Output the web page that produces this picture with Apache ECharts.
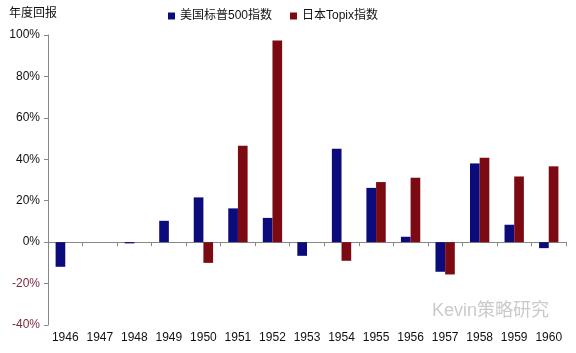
<!DOCTYPE html>
<html>
<head>
<meta charset="utf-8">
<script src="https://cdn.jsdelivr.net/npm/echarts@6/dist/echarts.min.js"></script>
<style>
  html, body { margin: 0; padding: 0; background: #fff; }
  #chart { width: 576px; height: 353px; }
</style>
</head>
<body>
<div id="chart"></div>
<script>
// 年份与两组年度回报 (%)
const years = ['1946', '1947', '1948', '1949', '1950', '1951', '1952', '1953', '1954', '1955', '1956', '1957', '1958', '1959', '1960'];
const usSP500 = [-11.9, 0, -0.6, 10.3, 21.6, 16.3, 11.7, -6.6, 45.1, 26.2, 2.6, -14.3, 38.0, 8.4, -2.9];
const jpTopix = [null, null, null, null, -10.0, 46.5, 97.3, null, -9.0, 29.0, 31.1, -15.6, 40.7, 31.7, 36.6];
const seriesNames = ['美国标普500指数', '日本Topix指数'];

const font = '"Liberation Sans", "Noto Sans CJK SC", sans-serif';
const chart = echarts.init(document.getElementById('chart'));

chart.setOption({
  animation: false,
  textStyle: { fontFamily: font },
  title: {
    text: '年度回报',
    left: 4,
    top: 3,
    textStyle: { fontSize: 12, fontWeight: 'normal', color: '#111', fontFamily: font }
  },
  legend: {
    data: seriesNames,
    top: 5,
    left: 163,
    itemWidth: 7,
    itemHeight: 7,
    itemGap: 18,
    icon: 'rect',
    textStyle: { fontSize: 12, color: '#111', fontFamily: font }
  },
  grid: { left: 48, right: 10, top: 35, bottom: 28 },
  xAxis: [
    {
      type: 'category',
      data: years,
      axisLine: { onZero: true, lineStyle: { color: '#888', width: 1 } },
      axisTick: { show: true, alignWithLabel: false, length: 4, interval: 0, lineStyle: { color: '#888' } },
      axisLabel: { show: false }
    },
    {
      type: 'category',
      data: years,
      position: 'bottom',
      axisLine: { show: false, onZero: false },
      axisTick: { show: false },
      axisLabel: { show: true, interval: 0, fontSize: 12, color: '#111', margin: 7 }
    }
  ],
  yAxis: {
    type: 'value',
    min: -40,
    max: 100,
    interval: 20,
    axisLine: { show: true, lineStyle: { color: '#888' } },
    axisTick: { show: true, length: 4, lineStyle: { color: '#888' } },
    splitLine: { show: false },
    axisLabel: {
      fontSize: 12,
      margin: 8,
      formatter: v => v + '%',
      color: v => (v < 0 ? '#7a2a3c' : '#111')
    }
  },
  graphic: [
    {
      type: 'text',
      left: 432,
      top: 302,
      style: { text: 'Kevin策略研究', fontSize: 18, fill: '#cacaca', fontFamily: font }
    }
  ],
  series: [
    {
      name: seriesNames[0],
      type: 'bar',
      data: usSP500,
      barWidth: '28%',
      barGap: '0%',
      itemStyle: { color: '#0b0b7c' }
    },
    {
      name: seriesNames[1],
      type: 'bar',
      data: jpTopix,
      barWidth: '28%',
      barGap: '0%',
      itemStyle: { color: '#7c0a12' }
    }
  ]
});
</script>
</body>
</html>
